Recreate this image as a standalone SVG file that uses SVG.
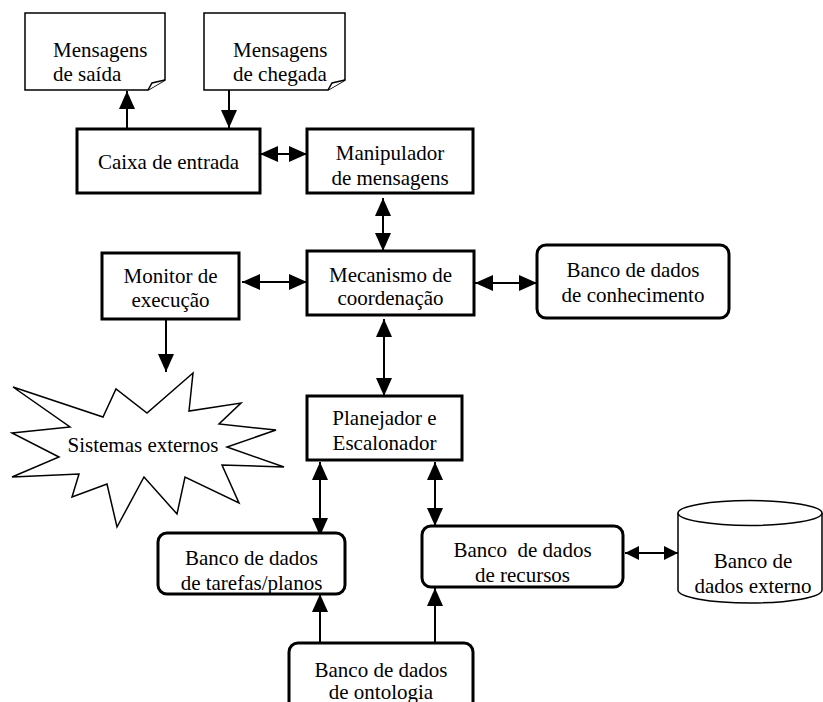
<svg xmlns="http://www.w3.org/2000/svg" width="823" height="702" viewBox="0 0 823 702">
  <style>
    text { font-family: "Liberation Serif", "DejaVu Serif", serif; font-size: 21px; fill: #000; text-anchor: middle; }
    .left { text-anchor: start; }
    .pre { white-space: pre; }
    .box { fill: #fff; stroke: #000; stroke-width: 3; }
    .thin { fill: #fff; stroke: #000; stroke-width: 1.5; stroke-linejoin: miter; }
    .conn { fill: none; stroke: #000; stroke-width: 2; }
  </style>
  <defs>
    <marker id="head" markerUnits="userSpaceOnUse" markerWidth="18" markerHeight="16" refX="18" refY="8" orient="auto-start-reverse">
      <path d="M0,0 L18,8 L0,16 Z" fill="#000"/>
    </marker>
    <marker id="headSmall" markerUnits="userSpaceOnUse" markerWidth="14" markerHeight="14" refX="14" refY="7" orient="auto-start-reverse">
      <path d="M0,0 L14,7 L0,14 Z" fill="#000"/>
    </marker>
  </defs>

  <rect width="823" height="702" fill="#fff"/>

  <!-- connectors -->
  <g id="connectors">
    <line class="conn" x1="127" y1="129" x2="127" y2="91" marker-end="url(#head)"/>
    <line class="conn" x1="229" y1="90" x2="229" y2="128" marker-end="url(#head)"/>
    <line class="conn" x1="260" y1="154" x2="307" y2="154" marker-start="url(#head)" marker-end="url(#head)"/>
    <line class="conn" x1="383" y1="198" x2="383" y2="251" marker-start="url(#head)" marker-end="url(#head)"/>
    <line class="conn" x1="242" y1="282" x2="307" y2="282" marker-start="url(#head)" marker-end="url(#head)"/>
    <line class="conn" x1="475" y1="283" x2="537" y2="283" marker-start="url(#head)" marker-end="url(#head)"/>
    <line class="conn" x1="166" y1="320" x2="166" y2="372" marker-end="url(#head)"/>
    <line class="conn" x1="384" y1="319" x2="384" y2="396" marker-start="url(#head)" marker-end="url(#head)"/>
    <line class="conn" x1="320" y1="462" x2="320" y2="536" marker-start="url(#head)" marker-end="url(#head)"/>
    <line class="conn" x1="435" y1="462" x2="435" y2="526" marker-start="url(#head)" marker-end="url(#head)"/>
    <line class="conn" x1="320" y1="643" x2="320" y2="594" marker-end="url(#head)"/>
    <line class="conn" x1="435" y1="643" x2="435" y2="588" marker-end="url(#head)"/>
    <line class="conn" x1="625" y1="553" x2="678" y2="553" marker-start="url(#headSmall)" marker-end="url(#headSmall)"/>
  </g>

  <g font-family="'Liberation Serif', 'DejaVu Serif', serif">
  <!-- outgoing messages (document) -->
  <g id="msg-out">
    <path class="thin" d="M25,13 H165 V80 L148,90 H25 Z"/>
    <path class="thin" d="M148,90 L152,83 L165,80" fill="none"/>
    <text class="left" x="53" y="57">Mensagens</text>
    <text class="left" x="53" y="81">de saída</text>
  </g>

  <!-- incoming messages (document) -->
  <g id="msg-in">
    <path class="thin" d="M204,13 H345 V80 L328,90 H204 Z"/>
    <path class="thin" d="M328,90 L332,83 L345,80" fill="none"/>
    <text class="left" x="233" y="57">Mensagens</text>
    <text class="left" x="233" y="81">de chegada</text>
  </g>

  <g id="inbox">
    <rect class="box" x="77" y="129" width="183" height="64"/>
    <text x="168.5" y="169">Caixa de entrada</text>
  </g>

  <g id="message-handler">
    <rect class="box" x="307" y="129" width="166" height="64"/>
    <text x="390" y="160">Manipulador</text>
    <text x="390" y="185">de mensagens</text>
  </g>

  <g id="exec-monitor">
    <rect class="box" x="102" y="253" width="137" height="66"/>
    <text x="170.5" y="283">Monitor de</text>
    <text x="170.5" y="307">execução</text>
  </g>

  <g id="coordination">
    <rect class="box" x="307" y="251" width="167" height="64"/>
    <text x="390.5" y="282">Mecanismo de</text>
    <text x="390.5" y="305">coordenação</text>
  </g>

  <g id="knowledge-db">
    <rect class="box" x="537" y="245" width="192" height="73" rx="9"/>
    <text x="633" y="277">Banco de dados</text>
    <text x="633" y="302">de conhecimento</text>
  </g>

  <g id="external-systems">
    <path class="thin" d="M13,387 L103,417 L116,389 L147,413 L193,373 L189,411 L241,403 L219,424 L276,430 L227,447 L284,467 L222,465 L239,503 L185,477 L177,514 L144,477 L117,527 L107,484 L72,497 L79,474 L12,477 L59,457 L12,433 L70,427 Z"/>
    <text x="143" y="452">Sistemas externos</text>
  </g>

  <g id="planner">
    <rect class="box" x="307" y="396" width="155" height="64"/>
    <text x="384.5" y="425">Planejador e</text>
    <text x="384.5" y="450">Escalonador</text>
  </g>

  <g id="tasks-db">
    <rect class="box" x="158" y="533" width="187" height="61" rx="9"/>
    <text x="251.5" y="565">Banco de dados</text>
    <text x="251.5" y="590">de tarefas/planos</text>
  </g>

  <g id="resources-db">
    <rect class="box" x="422" y="526" width="201" height="61" rx="9"/>
    <text class="pre" x="522.5" y="557">Banco  de dados</text>
    <text x="522.5" y="582">de recursos</text>
  </g>

  <g id="external-db">
    <path class="thin" d="M678,513 V590 A72,13 0 0 0 822,590 V513"/>
    <ellipse class="thin" cx="750" cy="513" rx="72" ry="12.5"/>
    <text x="753" y="568">Banco de</text>
    <text x="753" y="593">dados externo</text>
  </g>

  <g id="ontology-db">
    <rect class="box" x="289" y="643" width="184" height="70" rx="9"/>
    <text x="381" y="677">Banco de dados</text>
    <text x="381" y="699">de ontologia</text>
  </g>
  </g>
</svg>
